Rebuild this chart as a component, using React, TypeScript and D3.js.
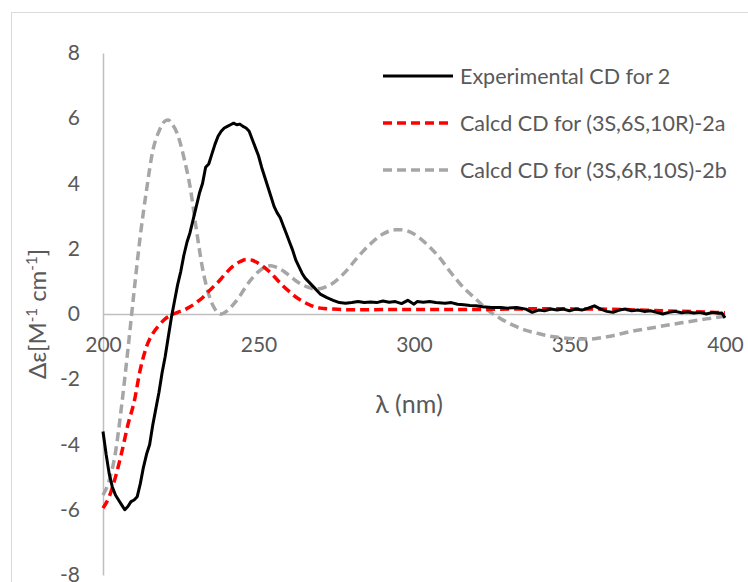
import { useRef, useEffect } from 'react';
import * as d3 from 'd3';

const W = 748;
const H = 582;

// experimental CD for 2
const expWl = [200, 201, 202, 203, 204, 205, 206, 207, 208, 209, 210, 211, 212, 213, 214, 215, 216, 217, 218, 219,
  220, 221, 222, 223, 224, 225, 226, 227, 228, 229, 230, 231, 232, 233, 234, 235, 236, 237, 238, 239,
  240, 241, 242, 243, 244, 245, 246, 247, 248, 249, 250, 251, 252, 253, 254, 255, 256, 257, 258, 259,
  260, 261, 262, 263, 264, 265, 266, 267, 268, 269, 270, 272, 274, 276, 278, 280, 282, 284, 286, 288,
  290, 292, 294, 296, 298, 300, 301, 303, 305, 307, 310, 312, 314, 316, 318, 320, 322, 325, 328, 330,
  333, 336, 338, 340, 342, 344, 346, 348, 350, 352, 354, 356, 358, 360, 362, 364, 366, 368, 370, 372,
  374, 376, 378, 380, 382, 384, 386, 388, 390, 392, 394, 396, 398, 399, 400];
const expCd = [-3.6, -4.3, -4.9, -5.3, -5.55, -5.7, -5.85, -6.0, -5.9, -5.75, -5.7, -5.6, -5.2, -4.7, -4.3, -4.0, -3.4, -2.9, -2.4, -1.8,
  -1.3, -0.7, -0.1, 0.4, 0.9, 1.3, 1.8, 2.2, 2.5, 2.9, 3.3, 3.7, 4.0, 4.5, 4.6, 4.9, 5.2, 5.45, 5.6, 5.7,
  5.75, 5.8, 5.85, 5.8, 5.82, 5.75, 5.7, 5.6, 5.35, 5.1, 4.85, 4.5, 4.2, 3.9, 3.6, 3.3, 3.1, 2.95, 2.7, 2.45,
  2.2, 1.95, 1.65, 1.45, 1.25, 1.1, 1.0, 0.9, 0.8, 0.7, 0.6, 0.5, 0.42, 0.35, 0.33, 0.35, 0.38, 0.35, 0.37, 0.35,
  0.4, 0.36, 0.38, 0.32, 0.42, 0.3, 0.38, 0.36, 0.38, 0.35, 0.33, 0.35, 0.3, 0.28, 0.26, 0.25, 0.22, 0.2, 0.2, 0.18,
  0.2, 0.15, 0.05, 0.12, 0.1, 0.15, 0.12, 0.15, 0.1, 0.15, 0.12, 0.18, 0.25, 0.15, 0.08, 0.05, 0.12, 0.15, 0.1, 0.12,
  0.08, 0.1, 0.05, 0.0, 0.05, 0.08, 0.04, 0.06, 0.03, 0.05, 0.0, 0.05, 0.02, 0.03, -0.12];

// calcd CD for (3S,6S,10R)-2a
const aWl = [200, 202, 204, 206, 208, 210, 212, 214, 216, 218, 220, 222, 224, 226, 228, 230, 232, 234, 236, 238,
  240, 242, 244, 246, 248, 250, 252, 254, 256, 258, 260, 262, 264, 266, 268, 270, 274, 280, 300, 320,
  340, 360, 380, 400];
const aCd = [-5.95, -5.6, -5.0, -4.25, -3.4, -2.7, -1.7, -1.0, -0.6, -0.35, -0.15, -0.03, 0.05, 0.12, 0.22, 0.35, 0.5, 0.7, 0.88, 1.08,
  1.3, 1.48, 1.6, 1.67, 1.65, 1.55, 1.42, 1.25, 1.05, 0.85, 0.68, 0.52, 0.4, 0.3, 0.22, 0.18, 0.15, 0.13, 0.14, 0.14,
  0.16, 0.15, 0.1, 0.04];

// calcd CD for (3S,6R,10S)-2b
const bWl = [200, 202, 204, 206, 208, 210, 212, 214, 216, 218, 220, 221, 222, 224, 226, 228, 230, 232, 234, 236,
  238, 240, 242, 244, 246, 248, 250, 252, 254, 256, 258, 260, 262, 264, 266, 268, 270, 272, 274, 278,
  282, 286, 290, 294, 296, 300, 304, 308, 312, 316, 320, 324, 328, 332, 336, 340, 345, 350, 356, 362,
  370, 378, 386, 394, 400];
const bCd = [-5.55, -5.1, -4.25, -2.8, -1.1, 0.7, 2.4, 3.8, 5.0, 5.6, 5.92, 5.95, 5.85, 5.5, 4.8, 3.9, 2.6, 1.4, 0.6, 0.15,
  0.0, 0.1, 0.3, 0.55, 0.85, 1.1, 1.3, 1.43, 1.48, 1.42, 1.32, 1.17, 1.02, 0.9, 0.82, 0.77, 0.78, 0.85, 0.95, 1.3,
  1.75, 2.15, 2.45, 2.58, 2.58, 2.45, 2.15, 1.75, 1.25, 0.8, 0.45, 0.1, -0.15, -0.35, -0.5, -0.6, -0.7, -0.75, -0.77, -0.7,
  -0.53, -0.4, -0.27, -0.15, -0.07];

const xTicks = [200, 250, 300, 350, 400];
const yTicks = [-8, -6, -4, -2, 0, 2, 4, 6, 8];

const series = [
  { label: 'Experimental CD for 2', wl: expWl, cd: expCd, color: '#000000', dash: null, width: 3, curve: d3.curveLinear },
  { label: 'Calcd CD for (3S,6S,10R)-2a', wl: aWl, cd: aCd, color: '#FF0000', dash: '9,5', width: 3.5, curve: d3.curveMonotoneX },
  { label: 'Calcd CD for (3S,6R,10S)-2b', wl: bWl, cd: bCd, color: '#A6A6A6', dash: '9,5', width: 3.5, curve: d3.curveMonotoneX },
];

const FONT = 'Lato, "Open Sans", sans-serif';
const TXT = '#595959';

export default function App() {
  const svgRef = useRef<SVGSVGElement>(null);

  useEffect(() => {
    const svg = d3.select(svgRef.current);
    svg.selectAll('*').remove();

    const x = d3.scaleLinear().domain([200, 400]).range([103, 725]);
    const y = d3.scaleLinear().domain([-8, 8]).range([575, 53]);

    svg.append('rect').attr('x', 11.5).attr('y', 12.5).attr('width', W).attr('height', H)
      .attr('fill', 'white').attr('stroke', '#D9D9D9');

    // y axis
    const ya = svg.append('g').attr('transform', `translate(${x(200)},0)`)
      .call(d3.axisLeft(y).tickValues(yTicks).tickSize(0).tickPadding(23).tickFormat(d => String(d)));
    ya.select('.domain').attr('stroke', '#BFBFBF').attr('stroke-width', 1.5);
    ya.selectAll('text').attr('font-family', FONT).attr('font-size', 21).attr('fill', TXT);

    // x axis along zero
    const xa = svg.append('g').attr('transform', `translate(0,${y(0)})`)
      .call(d3.axisBottom(x).tickValues(xTicks).tickSize(0).tickPadding(23).tickFormat(d => String(d)));
    xa.select('.domain').attr('stroke', '#BFBFBF').attr('stroke-width', 1.5);
    xa.selectAll('text').attr('font-family', FONT).attr('font-size', 21).attr('fill', TXT);

    // titles
    const yt = svg.append('text').attr('transform', `translate(46,${y(0)}) rotate(-90)`)
      .attr('text-anchor', 'middle').attr('font-family', FONT).attr('font-size', 24).attr('fill', TXT);
    yt.append('tspan').text('Δε[M');
    yt.append('tspan').attr('baseline-shift', 'super').attr('font-size', 15).text('-1');
    yt.append('tspan').text(' cm');
    yt.append('tspan').attr('baseline-shift', 'super').attr('font-size', 15).text('-1');
    yt.append('tspan').text(']');

    svg.append('text').attr('x', 409).attr('y', 413).attr('text-anchor', 'middle')
      .attr('font-family', FONT).attr('font-size', 25).attr('fill', TXT).text('λ (nm)');

    // curves
    series.slice().reverse().forEach(s => {
      const line = d3.line<number>().x(d => x(d)).y((d, i) => y(s.cd[i])).curve(s.curve);
      svg.append('path').attr('d', line(s.wl)).attr('fill', 'none')
        .attr('stroke', s.color).attr('stroke-width', s.width)
        .attr('stroke-dasharray', s.dash).attr('stroke-linejoin', 'round');
    });

    // legend
    const legend = svg.append('g').attr('transform', 'translate(383,76)');
    series.forEach((s, i) => {
      const row = legend.append('g').attr('transform', `translate(0,${i * 47})`);
      row.append('line').attr('x1', 0).attr('x2', 70).attr('stroke', s.color)
        .attr('stroke-width', s.width).attr('stroke-dasharray', s.dash);
      row.append('text').attr('x', 77).attr('y', 7.5).attr('font-family', FONT).attr('font-size', 21.5)
        .attr('fill', TXT).text(s.label);
    });
  }, []);

  return <svg ref={svgRef} width={W} height={H} style={{ position: 'absolute', left: 0, top: 0 }} />;
}
